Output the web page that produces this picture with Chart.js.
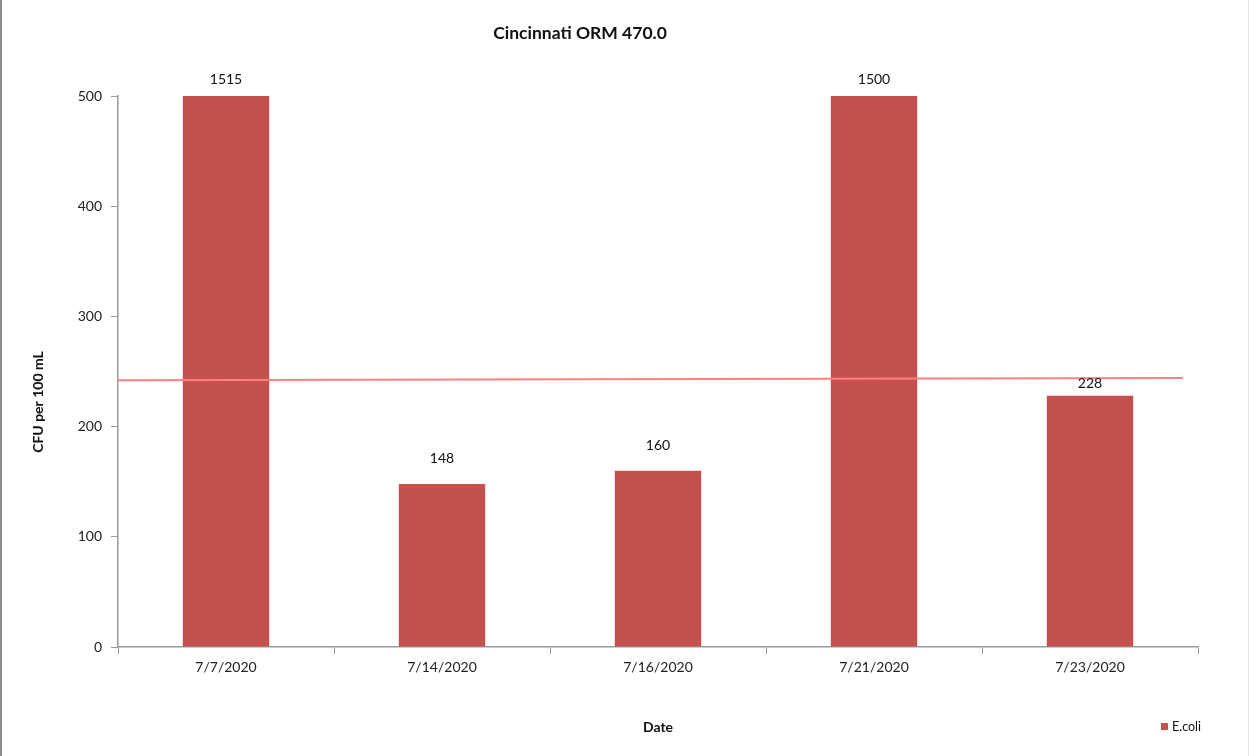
<!DOCTYPE html>
<html><head><meta charset="utf-8">
<script src="https://cdn.jsdelivr.net/npm/chart.js@4"></script>
<style>html,body{margin:0;padding:0;background:#fff;overflow:hidden}canvas{display:block}</style>
</head><body>
<canvas id="c" width="1250" height="756"></canvas>
<script>
const categories = ['7/7/2020', '7/14/2020', '7/16/2020', '7/21/2020', '7/23/2020'];
const ecoliValues = [1515, 148, 160, 1500, 228];
const yTickMin = 0;
const yTickMax = 500;
const yTickStep = 100;
const thresholdX = [0, 0.986];
const thresholdY = [242, 244];
const chartTitle = 'Cincinnati ORM 470.0';
const yTitle = 'CFU per 100 mL';
const xTitle = 'Date';
const seriesName = 'E.coli';

const FONT = 'Lato, "Liberation Sans", sans-serif';
const BAR_COLOR = '#C5514E';
const LINE_COLOR = '#FF8080';
const AXIS_COLOR = '#9a9a9a';
const LABEL_GAPS = [17, 25, 25, 17, 12];

const decorPlugin = {
  id: 'decor',
  beforeDraw(chart) {
    const ctx = chart.ctx;
    ctx.save();
    ctx.fillStyle = '#ffffff';
    ctx.fillRect(0, 0, chart.width, chart.height);
    ctx.fillStyle = '#8c8c8c';
    ctx.fillRect(0, 0, 2, chart.height);
    ctx.fillStyle = '#e4e4e4';
    ctx.fillRect(chart.width - 2, 0, 1, chart.height);
    ctx.restore();
  },
  afterDraw(chart) {
    const ctx = chart.ctx;
    const area = chart.chartArea;
    ctx.save();
    ctx.fillStyle = '#111';
    ctx.font = 'bold 17.5px ' + FONT;
    ctx.textAlign = 'center';
    ctx.textBaseline = 'middle';
    ctx.fillText(chartTitle, 580, 33);
    ctx.save();
    ctx.translate(38, 402);
    ctx.rotate(-Math.PI / 2);
    ctx.font = 'bold 14px ' + FONT;
    ctx.fillText(yTitle, 0, 0);
    ctx.restore();
    ctx.fillStyle = BAR_COLOR;
    ctx.fillRect(1161, 723, 7, 7);
    ctx.fillStyle = '#111';
    ctx.font = '12.5px ' + FONT;
    ctx.textAlign = 'left';
    ctx.fillText(seriesName, 1172, 727);
    const meta = chart.getDatasetMeta(0);
    ctx.font = '14px ' + FONT;
    ctx.textAlign = 'center';
    ctx.fillStyle = '#111';
    meta.data.forEach((bar, i) => {
      const top = Math.max(bar.y, area.top);
      ctx.fillText(String(ecoliValues[i]), bar.x, top - LABEL_GAPS[i]);
    });
    ctx.restore();
  }
};

new Chart(document.getElementById('c'), {
  type: 'bar',
  data: {
    labels: categories,
    datasets: [
      {
        type: 'bar',
        label: seriesName,
        data: ecoliValues,
        backgroundColor: BAR_COLOR,
        barPercentage: 0.4,
        categoryPercentage: 1.0,
        grouped: false,
        xAxisID: 'x',
        yAxisID: 'y',
        order: 2
      },
      {
        type: 'line',
        label: 'threshold',
        data: thresholdX.map((x, i) => ({ x: x, y: thresholdY[i] })),
        borderColor: LINE_COLOR,
        borderWidth: 2,
        pointRadius: 0,
        fill: false,
        xAxisID: 'x2',
        yAxisID: 'y',
        order: 1
      }
    ]
  },
  options: {
    responsive: false,
    animation: false,
    devicePixelRatio: 1,
    layout: { padding: { top: 96, right: 52, left: 0, bottom: 0 } },
    plugins: {
      legend: { display: false },
      title: { display: false },
      tooltip: { enabled: false }
    },
    scales: {
      x: {
        type: 'category',
        offset: true,
        afterFit: s => { s.height = 109; },
        grid: {
          offset: true,
          drawOnChartArea: false,
          drawTicks: true,
          tickLength: 7,
          color: AXIS_COLOR,
          lineWidth: 1
        },
        border: { color: AXIS_COLOR, width: 1.5 },
        ticks: {
          font: { family: FONT, size: 14 },
          color: '#222',
          padding: 5,
          maxRotation: 0
        },
        title: {
          display: true,
          text: xTitle,
          font: { family: FONT, size: 14, weight: 'bold' },
          color: '#111',
          padding: { top: 0, bottom: 20 }
        }
      },
      x2: {
        type: 'linear',
        min: 0,
        max: 1,
        offset: false,
        display: false
      },
      y: {
        min: yTickMin,
        max: yTickMax,
        afterFit: s => { s.width = 118; },
        grid: {
          drawOnChartArea: false,
          drawTicks: true,
          tickLength: 7,
          color: AXIS_COLOR,
          lineWidth: 1
        },
        border: { color: AXIS_COLOR, width: 1.5 },
        ticks: {
          stepSize: yTickStep,
          font: { family: FONT, size: 14 },
          color: '#222',
          padding: 9
        }
      }
    }
  },
  plugins: [decorPlugin]
});
</script>
</body></html>
